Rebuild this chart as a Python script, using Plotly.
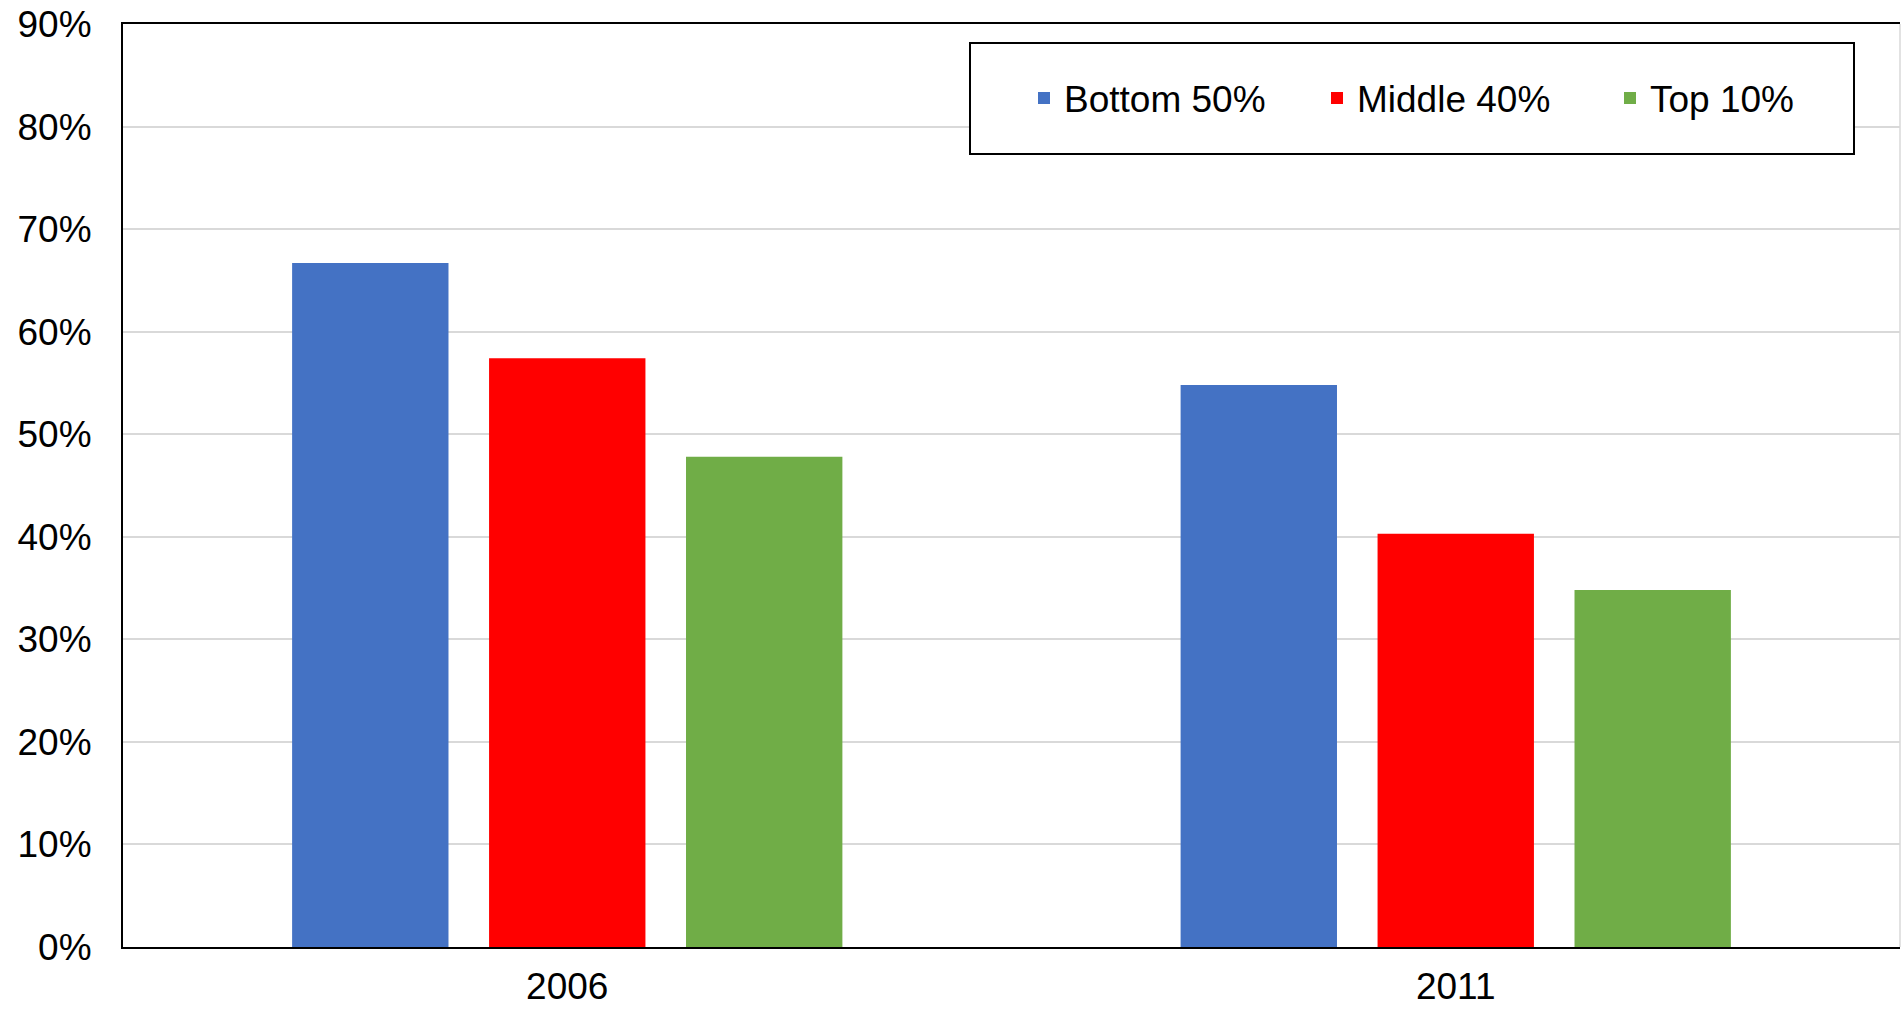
import plotly.graph_objects as go

years = ["2006", "2011"]
series_names = ["Bottom 50%", "Middle 40%", "Top 10%"]
bottom_50 = [0.667, 0.548]
middle_40 = [0.574, 0.403]
top_10 = [0.478, 0.348]
colors = ["#4472C4", "#FF0000", "#70AD47"]
y_ticks = [0, 0.1, 0.2, 0.3, 0.4, 0.5, 0.6, 0.7, 0.8, 0.9]

FONT = "Liberation Sans, Arial, sans-serif"
FS = 37

fig = go.Figure()
for name, vals, col in zip(series_names, [bottom_50, middle_40, top_10], colors):
    fig.add_trace(go.Bar(x=years, y=vals, name=name, marker=dict(color=col, line=dict(width=0))))

W, H = 1901, 1009
ml, mr, mt, mb = 123, 1, 24, 62
pw, ph = W - ml - mr, H - mt - mb

def px_x(x):
    return (x - ml) / pw

def px_y(y):
    return (H - mb - y) / ph

fig.update_layout(
    width=W, height=H, autosize=False,
    margin=dict(l=ml, r=mr, t=mt, b=mb, pad=0, autoexpand=False),
    paper_bgcolor="white", plot_bgcolor="white",
    barmode="group", bargap=0.335, bargroupgap=0.206,
    font=dict(family=FONT, size=FS, color="black"),
    showlegend=True,
    legend=dict(
        orientation="h",
        x=px_x(1024), xanchor="left",
        y=px_y(98.5), yanchor="middle",
        bgcolor="rgba(0,0,0,0)", borderwidth=0,
        entrywidth=248, entrywidthmode="pixels",
        font=dict(family=FONT, size=FS, color="black"),
    ),
    xaxis=dict(
        type="category", showline=True, linecolor="black", linewidth=2,
        mirror=True, showgrid=False, ticks="", ticklabelstandoff=6,
        automargin=False,
        tickfont=dict(family=FONT, size=FS, color="black"),
    ),
    yaxis=dict(
        range=[0, 0.9], tickvals=y_ticks, tickformat=".0%",
        showline=True, linecolor="black", linewidth=2,
        showgrid=True, gridcolor="#D9D9D9", gridwidth=1.5,
        zeroline=False, ticks="", ticklabelstandoff=22, automargin=False,
        tickfont=dict(family=FONT, size=FS, color="black"),
    ),
    shapes=[
        dict(type="rect", xref="paper", yref="paper",
             x0=px_x(970), x1=px_x(1854), y0=px_y(154), y1=px_y(43),
             line=dict(color="black", width=2), fillcolor="white", layer="above"),
        dict(type="line", xref="paper", yref="paper",
             x0=1, x1=1, y0=0, y1=1, line=dict(color="#D9D9D9", width=1.5)),
    ],
)

fig.write_html(
    "out.html",
    config={"displayModeBar": False, "responsive": False},
    post_script="document.body.style.margin='0';document.body.style.overflow='hidden';",
)
